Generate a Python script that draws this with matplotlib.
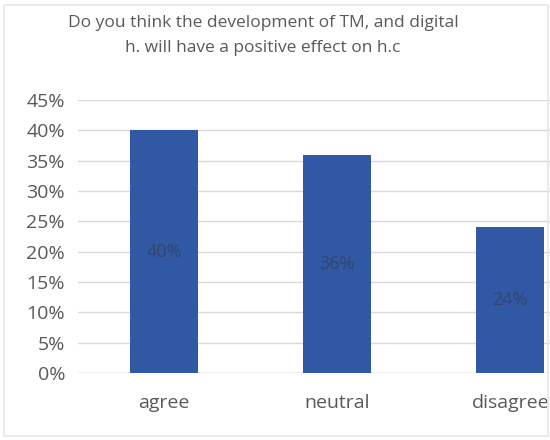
import matplotlib.pyplot as plt
from matplotlib.patches import Rectangle
from matplotlib.ticker import MultipleLocator, FuncFormatter

# Survey answers
categories = ['agree', 'neutral', 'disagree']
shares = [40, 36, 24]
title = 'Do you think the development of TM, and digital\nh. will have a positive effect on h.c'

plt.rcParams['font.family'] = ['Open Sans', 'DejaVu Sans']
grey = '#595959'

fig = plt.figure(figsize=(5.5, 4.4), dpi=100)
# plot area runs past the right edge on purpose, the last label gets clipped
ax = fig.add_axes([0.141, 0.152, 0.944, 0.621])

x = range(len(categories))
bars = ax.bar(x, shares, width=0.39, color='#3158A5', zorder=3)
for b, v in zip(bars, shares):
    ax.text(b.get_x() + b.get_width() / 2, v / 2, f'{v}%', ha='center', va='center',
            fontsize=13, color='#34456b', zorder=4)

ax.set_xlim(-0.5, 2.5)
ax.set_ylim(0, 45)
ax.yaxis.set_major_locator(MultipleLocator(5))
ax.yaxis.set_major_formatter(FuncFormatter(lambda v, p: f'{v:.0f}%'))
ax.set_xticks(list(x))
ax.set_xticklabels(categories)
ax.tick_params(axis='y', length=0, pad=9, labelsize=14, labelcolor=grey)
ax.tick_params(axis='x', length=0, pad=15, labelsize=14, labelcolor=grey)
ax.grid(axis='y', color='#d9d9d9', linewidth=1, zorder=0)
for s in ax.spines.values():
    s.set_visible(False)
ax.axhline(0, color='#d0d0d0', linewidth=1, zorder=2)

fig.text(0.478, 0.92, title, ha='center', va='center', fontsize=12.5,
         color=grey, linespacing=1.75)

# chart frame
fig.patches.append(Rectangle((4 / 550, 4 / 440), 544 / 550, 431 / 440, transform=fig.transFigure,
                             fill=False, edgecolor='#e6e6e6', linewidth=1.2))

fig.savefig('out.png', dpi=100)
